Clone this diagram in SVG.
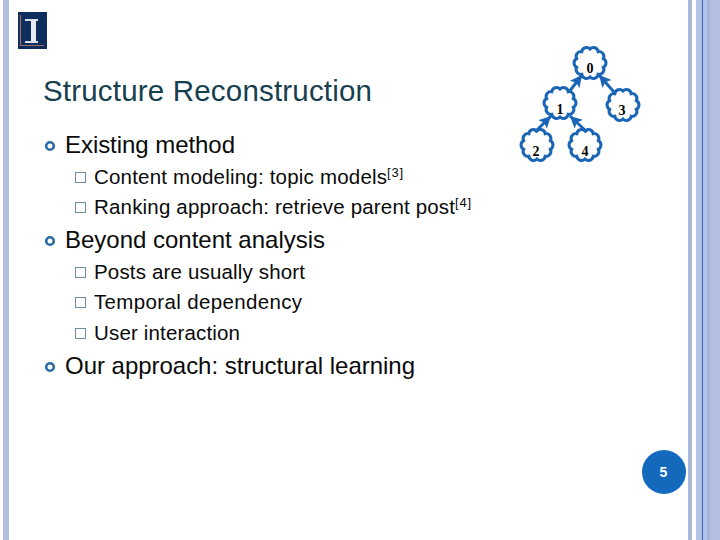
<svg xmlns="http://www.w3.org/2000/svg" width="720" height="540" viewBox="0 0 720 540">
<style>
text{font-family:"Liberation Sans",Arial,sans-serif;fill:#0a0a0a}
.title{font-size:29.5px;fill:#17404f}
.l1{font-size:24px}
.l2{font-size:20.500px}
.sup{font-size:13px}
.ring{fill:none;stroke:#2a6aa5;stroke-width:2.6}
.box{fill:#fff;stroke:#6f8f9f;stroke-width:1}
.n{font-family:"Liberation Serif","Times New Roman",serif;font-weight:bold;font-size:14px;text-anchor:middle;fill:#000}
.scallop{fill:#fff;stroke:#1a65b5;stroke-width:3}
.edge{stroke:#1a65b5;stroke-width:3;fill:none;marker-end:url(#arr)}
</style>
<defs>
<marker id="arr" markerUnits="userSpaceOnUse" markerWidth="13" markerHeight="12" refX="12" refY="6" orient="auto"><path d="M0 0L12 6L0 12L2.500 6Z" fill="#1a65b5"/></marker>
<path id="sc" d="M0 -14A4.800 4.800 0 0 1 8.2 -11.3A4.800 4.800 0 0 1 13.3 -4.300A4.800 4.800 0 0 1 13.3 4.300A4.800 4.800 0 0 1 8.2 11.3A4.800 4.800 0 0 1 0 14A4.800 4.800 0 0 1 -8.2 11.3A4.800 4.800 0 0 1 -13.3 4.300A4.800 4.800 0 0 1 -13.3 -4.300A4.800 4.800 0 0 1 -8.2 -11.3A4.800 4.800 0 0 1 0 -14Z"/>
</defs>
<rect width="720" height="540" fill="#fff"/>
<rect x="3" y="0" width="6" height="540" fill="#b3bfe0"/>
<rect x="688" y="0" width="4" height="540" fill="#aab8d8"/>
<rect x="696" y="0" width="6" height="540" fill="#b3c3e6"/>
<rect x="702" y="0" width="1" height="540" fill="#2f62b0"/>
<rect x="703" y="0" width="4" height="540" fill="#b0c4ec"/>
<rect x="707" y="0" width="3" height="540" fill="#a5b5d5"/>
<rect x="710" y="0" width="10" height="540" fill="#b3bfe0"/>
<g id="logo">
<rect x="18" y="12" width="29" height="37" fill="#0f2d5c"/>
<path d="M20.500 15V45.500H44" fill="none" stroke="#9a6f68" stroke-width="1.200"/>
<rect x="25" y="19" width="13" height="2" fill="#d8dfea"/>
<rect x="31" y="20" width="5" height="22" fill="#e8ecf2"/>
<rect x="25" y="41" width="13" height="2" fill="#d8dfea"/>
</g>
<text class="title" x="43" y="101" textLength="329" lengthAdjust="spacing">Structure Reconstruction</text>
<circle class="ring" cx="50" cy="146" r="3.8"/>
<text class="l1" x="65" y="153" textLength="170" lengthAdjust="spacing">Existing method</text>
<rect class="box" x="75.500" y="172.500" width="10" height="10"/>
<text class="l2" x="94" y="184" textLength="293" lengthAdjust="spacing">Content modeling: topic models</text>
<text class="sup" x="387" y="177" textLength="16" lengthAdjust="spacing">[3]</text>
<rect class="box" x="75.500" y="202.500" width="10" height="10"/>
<text class="l2" x="94" y="214" textLength="361" lengthAdjust="spacing">Ranking approach: retrieve parent post</text>
<text class="sup" x="455" y="207" textLength="16" lengthAdjust="spacing">[4]</text>
<circle class="ring" cx="50" cy="241" r="3.8"/>
<text class="l1" x="65" y="248" textLength="260" lengthAdjust="spacing">Beyond content analysis</text>
<rect class="box" x="75.500" y="267.500" width="10" height="10"/>
<text class="l2" x="94" y="279" textLength="211" lengthAdjust="spacing">Posts are usually short</text>
<rect class="box" x="75.500" y="297.500" width="10" height="10"/>
<text class="l2" x="94" y="309" textLength="208" lengthAdjust="spacing">Temporal dependency</text>
<rect class="box" x="75.500" y="328.500" width="10" height="10"/>
<text class="l2" x="94" y="340" textLength="146" lengthAdjust="spacing">User interaction</text>
<circle class="ring" cx="50" cy="367" r="3.8"/>
<text class="l1" x="65" y="374" textLength="350" lengthAdjust="spacing">Our approach: structural learning</text>
<g id="node0"><use href="#sc" class="scallop" x="590" y="63"/><text class="n" x="590" y="72.500">0</text></g>
<g id="node1"><use href="#sc" class="scallop" x="560" y="103"/><text class="n" x="560" y="113.500">1</text></g>
<g id="node3"><use href="#sc" class="scallop" x="623" y="105"/><text class="n" x="622" y="115">3</text></g>
<g id="node2"><use href="#sc" class="scallop" x="537" y="145"/><text class="n" x="536" y="155.500">2</text></g>
<g id="node4"><use href="#sc" class="scallop" x="585" y="145"/><text class="n" x="585" y="155.500">4</text></g>
<g id="connectors">
<line class="edge" x1="569" y1="92" x2="582" y2="75"/>
<line class="edge" x1="614" y1="92" x2="599" y2="75"/>
<line class="edge" x1="535" y1="132" x2="551" y2="116"/>
<line class="edge" x1="587" y1="132" x2="570" y2="116"/>
</g>
<g id="page"><circle cx="664" cy="472" r="22" fill="#1569bd"/><text x="663.500" y="477" text-anchor="middle" font-size="14" font-weight="bold" style="fill:#fff">5</text></g>
</svg>
